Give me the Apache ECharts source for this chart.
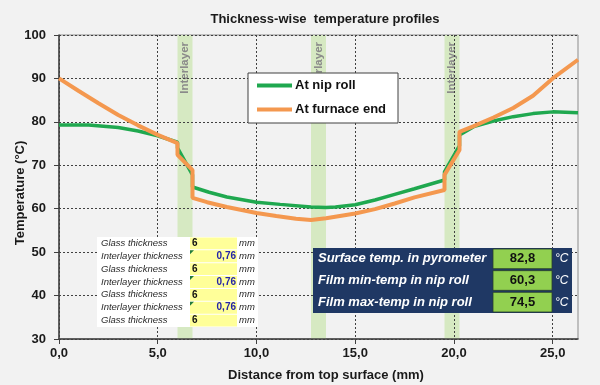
<!DOCTYPE html>
<html><head><meta charset="utf-8">
<script src="https://cdn.jsdelivr.net/npm/echarts@6/dist/echarts.min.js"></script>
<style>html,body{margin:0;padding:0;background:#f2f2f2}#c{width:600px;height:385px}</style>
</head><body><div id="c"></div>
<script>
// ---- data ----
const nipX  = [0, 1.5, 3, 4, 5, 6, 6, 6.76, 6.76, 7.6, 8.5, 10, 11.2, 12.76, 13.52, 14, 15, 16, 17, 18, 19.52, 19.52, 20.28, 20.28, 21, 22, 23, 24, 25, 26.28];
const nipY  = [79.3, 79.3, 78.7, 77.9, 76.8, 75.3, 74.0, 67.8, 65.0, 63.8, 62.7, 61.5, 61.0, 60.4, 60.3, 60.4, 60.9, 62.0, 63.3, 64.6, 66.6, 68.5, 74.5, 77.0, 78.9, 80.2, 81.2, 81.9, 82.3, 82.1];
const furnX = [0, 1, 2, 3, 4, 5, 6, 6, 6.76, 6.76, 7.5, 8.5, 10, 11, 12, 12.76, 13.52, 15, 16, 17, 18, 19.52, 19.52, 20.28, 20.28, 21, 22, 23, 24, 25, 26.28];
const furnY = [90.0, 87.1, 84.3, 81.6, 79.2, 77.0, 75.1, 72.4, 68.9, 62.5, 61.5, 60.4, 59.0, 58.3, 57.7, 57.4, 57.8, 58.9, 59.9, 61.2, 62.6, 64.3, 67.8, 73.5, 77.7, 79.0, 81.0, 83.2, 86.0, 90.0, 94.3];
const layerStart = [6, 12.76, 19.52];
const layerEnd   = [6.76, 13.52, 20.28];
const layerLabel = 'Interlayer';
const xTickValues = [0, 5, 10, 15, 20, 25];
const tableLabels = ['Glass thickness','Interlayer thickness','Glass thickness','Interlayer thickness','Glass thickness','Interlayer thickness','Glass thickness'];
const tableValues = ['6','0,76','6','0,76','6','0,76','6'];
const tableUnit = 'mm';
const infoLabels = ['Surface temp. in pyrometer','Film min-temp in nip roll','Film max-temp in nip roll'];
const infoValues = ['82,8','60,3','74,5'];
const infoUnit = '°C';
const seriesNames = ['At nip roll','At furnace end'];

// ---- chart ----
const F = '"Liberation Sans", Arial, sans-serif';
const chart = echarts.init(document.getElementById('c'), null, {renderer:'canvas'});
const fmt = v => v.toFixed(1).replace('.', ',');

const g = [];
// axis titles and chart title
g.push({type:'text', x:325, y:19, z:10, style:{text:'Thickness-wise  temperature profiles', font:'bold 13px '+F, fill:'#1a1a1a', align:'center', verticalAlign:'middle', textAlign:'center', textVerticalAlign:'middle'}});
g.push({type:'text', x:326, y:375, z:10, style:{text:'Distance from top surface (mm)', font:'bold 13px '+F, fill:'#1a1a1a', align:'center', verticalAlign:'middle', textAlign:'center', textVerticalAlign:'middle'}});
g.push({type:'text', x:20, y:193, rotation:Math.PI/2, z:10, style:{text:'Temperature (°C)', font:'bold 13px '+F, fill:'#1a1a1a', align:'center', verticalAlign:'middle', textAlign:'center', textVerticalAlign:'middle'}});

// left table
const tX = 97, tY = 237, tW = 161, tH = 90, rh = tH / tableLabels.length;
g.push({type:'rect', z:10, shape:{x:tX, y:tY, width:tW, height:tH}, style:{fill:'#ffffff'}});
tableLabels.forEach((lab, i) => {
  const y0 = tY + i * rh;
  g.push({type:'rect', z:11, shape:{x:190, y:y0 + 0.5, width:47, height:rh - 1}, style:{fill:'#ffff99'}});
  g.push({type:'text', z:12, x:101, y:y0 + rh/2, style:{text:lab, font:'italic 9.5px '+F, fill:'#2a2a2a', align:'left', verticalAlign:'middle', textAlign:'left', textVerticalAlign:'middle'}});
  const v = tableValues[i];
  const isLayer = v !== '6';
  if (isLayer) {
    g.push({type:'polygon', z:12, shape:{points:[[190, y0+0.5],[194, y0+0.5],[190, y0+4.5]]}, style:{fill:'#217a3c'}});
  }
  g.push({type:'text', z:12, x:isLayer ? 236 : 192, y:y0 + rh/2, style:{text:v, font:'bold 10px '+F, fill:isLayer ? '#2424a8' : '#111', align:isLayer ? 'right' : 'left', verticalAlign:'middle', textAlign:isLayer ? 'right' : 'left', textVerticalAlign:'middle'}});
  g.push({type:'text', z:12, x:239, y:y0 + rh/2, style:{text:tableUnit, font:'italic 9.5px '+F, fill:'#2a2a2a', align:'left', verticalAlign:'middle', textAlign:'left', textVerticalAlign:'middle'}});
});

// right info box
const iX = 313, iY = 248, iW = 259, iH = 65, ih = iH / infoLabels.length;
g.push({type:'rect', z:10, shape:{x:iX, y:iY, width:iW, height:iH}, style:{fill:'#1f3864'}});
infoLabels.forEach((lab, i) => {
  const y0 = iY + i * ih;
  g.push({type:'rect', z:11, shape:{x:493, y:y0 + 1, width:59, height:ih - 2}, style:{fill:'#92d050', stroke:'#2a3f2a', lineWidth:0.8}});
  g.push({type:'text', z:12, x:318, y:y0 + ih/2, style:{text:lab, font:'italic bold 13px '+F, fill:'#ffffff', align:'left', verticalAlign:'middle', textAlign:'left', textVerticalAlign:'middle'}});
  g.push({type:'text', z:12, x:522.5, y:y0 + ih/2, style:{text:infoValues[i], font:'bold 13px '+F, fill:'#111', align:'center', verticalAlign:'middle', textAlign:'center', textVerticalAlign:'middle'}});
  g.push({type:'text', z:12, x:555, y:y0 + ih/2, style:{text:infoUnit, font:'italic 12px '+F, fill:'#ffffff', align:'left', verticalAlign:'middle', textAlign:'left', textVerticalAlign:'middle'}});
});

const option = {
  backgroundColor:'#f2f2f2',
  animation:false,
  grid:{left:59, right:22, top:35, bottom:46, show:true, borderColor:'#8c8c8c', borderWidth:1, backgroundColor:'transparent'},
  legend:{
    data:seriesNames, orient:'vertical', left:248, top:73,
    backgroundColor:'#ffffff', borderColor:'#404040', borderWidth:1,
    padding:[6, 12, 7, 9], itemGap:11, itemWidth:35, itemHeight:4, icon:'rect',
    textStyle:{fontFamily:F, fontWeight:'bold', fontSize:13, color:'#111', padding:[0,0,0,-2]}
  },
  xAxis:{
    type:'value', min:0, max:26.28, interval:5, z:1.5,
    axisLine:{show:true, lineStyle:{color:'#404040', width:1.5}},
    axisTick:{show:true, length:5, customValues:xTickValues, lineStyle:{color:'#404040'}},
    axisLabel:{customValues:xTickValues, formatter:fmt, fontFamily:F, fontWeight:'bold', fontSize:13, color:'#1a1a1a', margin:8},
    splitLine:{show:true, lineStyle:{type:[2,2], color:'#404040', width:1}}
  },
  yAxis:{
    type:'value', min:30, max:100, interval:10, z:1.5,
    axisLine:{show:true, lineStyle:{color:'#404040', width:1.5}},
    axisTick:{show:true, length:5, lineStyle:{color:'#404040'}},
    axisLabel:{fontFamily:F, fontWeight:'bold', fontSize:13, color:'#1a1a1a', margin:13},
    splitLine:{show:true, lineStyle:{type:[2,2], color:'#404040', width:1}}
  },
  graphic:{elements:g},
  series:[
    {
      type:'custom', name:'bands', z:1, silent:true,
      encode:{x:[0,1]},
      data:layerStart.map((s, i) => [s, layerEnd[i]]),
      renderItem:(params, api) => {
        const a = api.coord([api.value(0), 100]);
        const b = api.coord([api.value(1), 30]);
        const cx = (a[0] + b[0]) / 2;
        return {type:'group', children:[
          {type:'rect', shape:{x:a[0], y:a[1], width:b[0]-a[0], height:b[1]-a[1]}, style:{fill:'#d6e9c2'}},
          {type:'text', x:cx, y:a[1] + 7, rotation:Math.PI/2, style:{text:layerLabel, font:'bold 11.5px '+F, fill:'#8a8a8a', align:'right', verticalAlign:'middle', textAlign:'right', textVerticalAlign:'middle'}}
        ]};
      }
    },
    {
      type:'line', name:seriesNames[0], z:2, symbol:'none',
      data:nipX.map((x, i) => [x, nipY[i]]),
      lineStyle:{color:'#1fa84f', width:3.5}, itemStyle:{color:'#1fa84f'}
    },
    {
      type:'line', name:seriesNames[1], z:3, symbol:'none',
      data:furnX.map((x, i) => [x, furnY[i]]),
      lineStyle:{color:'#f4984f', width:4}, itemStyle:{color:'#f4984f'}
    }
  ]
};
chart.setOption(option);
</script>
</body></html>
